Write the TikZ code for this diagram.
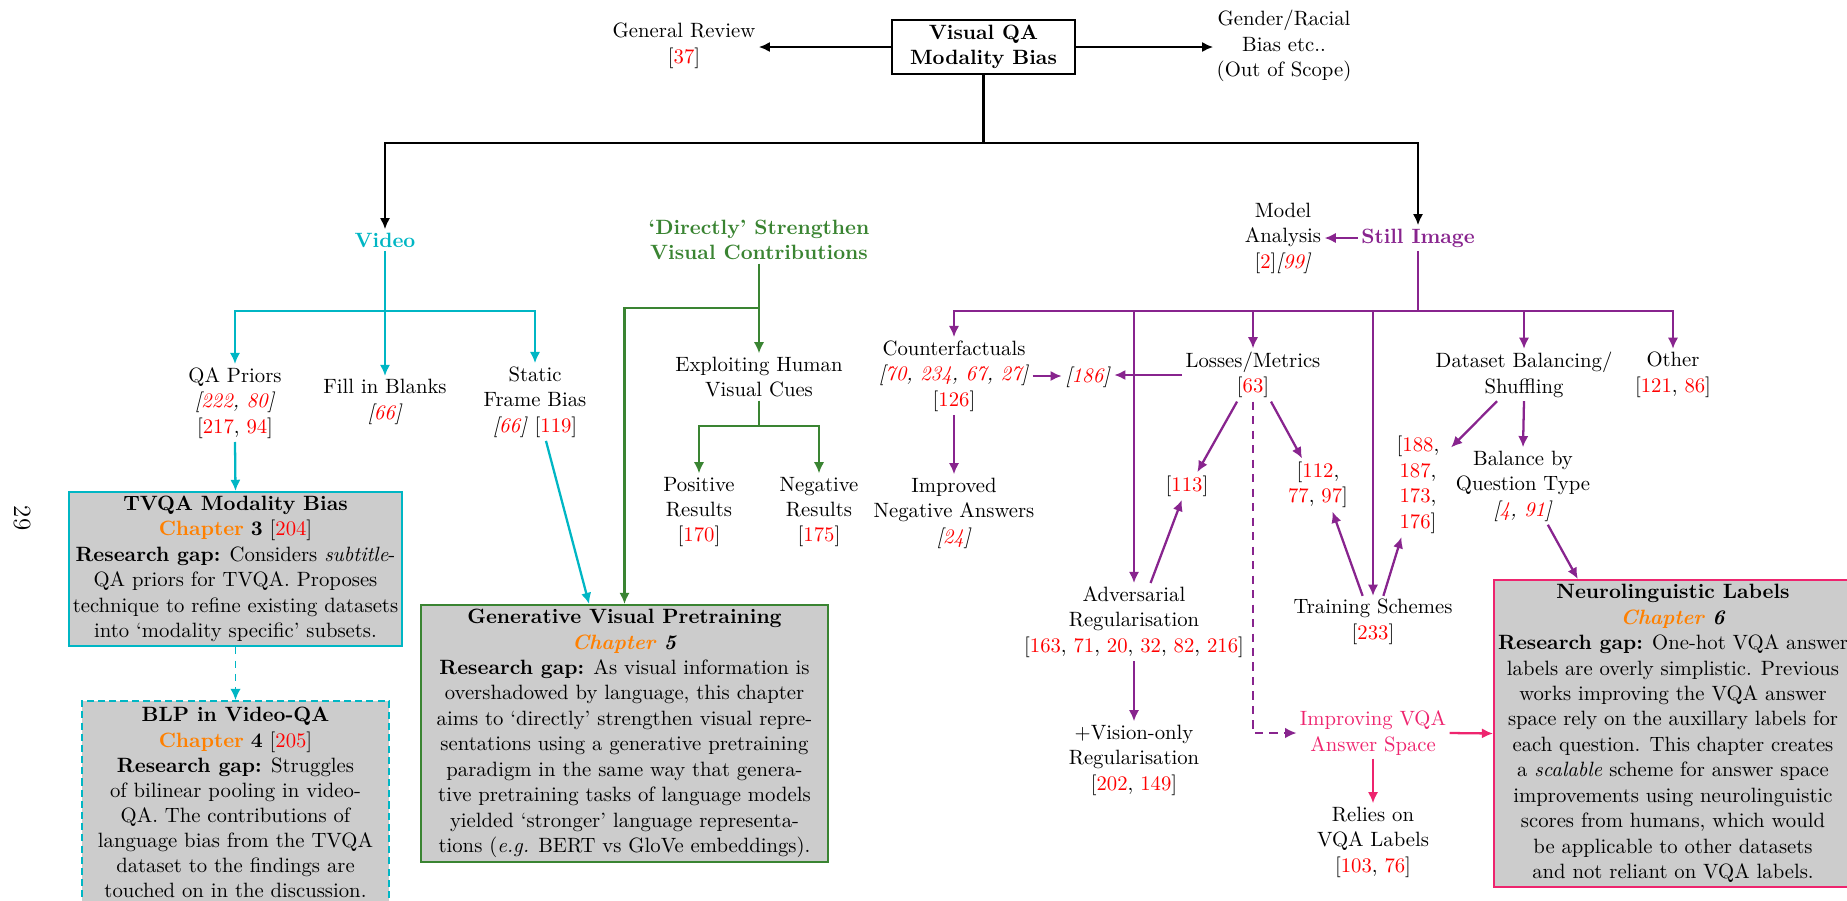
\documentclass[tikz,border=0pt]{standalone}
\usetikzlibrary{arrows.meta}
\definecolor{vidcyan}{RGB}{0,182,196}
\definecolor{dirgreen}{RGB}{58,132,50}
\definecolor{stillpurple}{RGB}{136,36,142}
\definecolor{answerpink}{RGB}{238,36,110}
\definecolor{chaporange}{RGB}{255,128,0}
\definecolor{citered}{RGB}{255,0,0}
\definecolor{boxgray}{RGB}{204,204,204}
\newcommand{\rc}[1]{\textcolor{citered}{#1}}
\newcommand{\chap}[1]{\textcolor{chaporange}{\textbf{Chapter}} \textbf{#1}}
\newcommand{\chapit}[1]{\textbf{\textit{\textcolor{chaporange}{Chapter} #1}}}
\newcommand{\rgap}{\textbf{Research gap:}}
\begin{document}
\begin{tikzpicture}[x=0.483pt,y=-0.483pt,
  every node/.style={font=\fontsize{10}{12.3}\selectfont,align=center,inner sep=1.5pt},
  line/.style={line width=1.1pt},
  arr/.style={line,-{Latex[length=5.4pt,width=5pt]}},
  blk/.style={arr,black},
  cy/.style={arr,vidcyan},
  gr/.style={arr,dirgreen},
  pu/.style={arr,stillpurple},
  pk/.style={arr,answerpink},
  chapbox/.style={draw,fill=boxgray,line width=1pt,inner sep=0pt},
  boxdash/.style={dash pattern=on 3.4pt off 2pt},
]
\useasboundingbox (0,0) rectangle (1847,900);

% ---------- root and first level ----------
\node[draw,line width=1.1pt,minimum width=88.4pt,minimum height=26.1pt,inner sep=0pt] (root) at (983.5,47)
  {\textbf{Visual QA}\\\textbf{Modality Bias}};
\node (genrev) at (684,46) {General Review\\{}[\rc{37}]};
\node (gender) at (1284,46) {Gender/Racial\\Bias etc..\\(Out of Scope)};
\node[text=vidcyan] (video) at (385,240) {\textbf{Video}};
\node[text=dirgreen] (direct) at (759,240) {\textbf{`Directly' Strengthen}\\\textbf{Visual Contributions}};
\node (model) at (1283,238) {Model\\Analysis\\{}[\rc{2}]\textit{[\rc{99}]}};
\node[text=stillpurple] (still) at (1418,238) {\textbf{Still Image}};

% ---------- video branch ----------
\node (qa) at (235,403) {QA Priors\\\textit{[\rc{222}, \rc{80}]}\\{}[\rc{217}, \rc{94}]};
\node (fill) at (385,402) {Fill in Blanks\\\textit{[\rc{66}]}};
\node (static) at (535,402) {Static\\Frame Bias\\\textit{[\rc{66}]} [\rc{119}]};

% ---------- direct strengthening branch ----------
\node (exploit) at (759,377) {Exploiting Human\\Visual Cues};
\node (pos) at (699,512) {Positive\\Results\\{}[\rc{170}]};
\node (neg) at (819,512) {Negative\\Results\\{}[\rc{175}]};

% ---------- still image branch ----------
\node (cf) at (954,376) {Counterfactuals\\\textit{[\rc{70}, \rc{234}, \rc{67}, \rc{27}]}\\{}[\rc{126}]};
\node (c186) at (1088,377) {\textit{[\rc{186}]}};
\node (impneg) at (954,513) {Improved\\Negative Answers\\\textit{[\rc{24}]}};
\node (loss) at (1253,375) {Losses/Metrics\\{}[\rc{63}]};
\node (c113) at (1187,486) {[\rc{113}]};
\node (c112) at (1318,485) {[\rc{112},\\\rc{77}, \rc{97}]};
\node (adv) at (1134,622) {Adversarial\\Regularisation\\{}[\rc{163}, \rc{71}, \rc{20}, \rc{32}, \rc{82}, \rc{216}]};
\node (vision) at (1134,760) {+Vision-only\\Regularisation\\{}[\rc{202}, \rc{149}]};
\node (train) at (1373,622) {Training Schemes\\{}[\rc{233}]};
\node[text=answerpink] (improv) at (1373,733) {Improving VQA\\Answer Space};
\node (relies) at (1373,842) {Relies on\\VQA Labels\\{}[\rc{103}, \rc{76}]};
\node (c188) at (1418,485) {[\rc{188},\\\rc{187},\\\rc{173},\\\rc{176}]};
\node (dsb) at (1524,375) {Dataset Balancing/\\Shuffling};
\node (bal) at (1523,486) {Balance by\\Question Type\\\textit{[\rc{4}, \rc{91}]}};
\node (other) at (1673,375) {Other\\{}[\rc{121}, \rc{86}]};

% ---------- chapter boxes ----------
\node[chapbox,draw=vidcyan,minimum width=160.8pt,minimum height=74.4pt] (tvqa) at (235.5,569)
  {\textbf{TVQA Modality Bias}\\\chap{3} [\rc{204}]\\\rgap{} Considers \textit{subtitle}-\\QA priors for TVQA. Proposes\\technique to refine existing datasets\\into `modality specific' subsets.};
\node[chapbox,draw=vidcyan,boxdash,minimum width=148.3pt,minimum height=98pt,
      font=\fontsize{10}{12.1}\selectfont] (blp) at (235.5,802.5)
  {\textbf{BLP in Video-QA}\\\chap{4} [\rc{205}]\\\rgap{} Struggles\\of bilinear pooling in video-\\QA. The contributions of\\language bias from the TVQA\\dataset to the findings are\\touched on in the discussion.};
\node[chapbox,draw=dirgreen,minimum width=196.6pt,minimum height=124.1pt] (gen) at (624.5,733.5)
  {\textbf{Generative Visual Pretraining}\\\chapit{5}\\\rgap{} As visual information is\\overshadowed by language, this chapter\\aims to `directly' strengthen visual repre-\\sentations using a generative pretraining\\paradigm in the same way that genera-\\tive pretraining tasks of language models\\yielded `stronger' language representa-\\tions (\textit{e.g.} BERT vs GloVe embeddings).};
\node[chapbox,draw=answerpink,minimum width=172.9pt,minimum height=148.3pt] (neuro) at (1673,733.5)
  {\textbf{Neurolinguistic Labels}\\\chapit{6}\\\rgap{} One-hot VQA answer\\labels are overly simplistic. Previous\\works improving the VQA answer\\space rely on the auxillary labels for\\each question. This chapter creates\\a \textit{scalable} scheme for answer space\\improvements using neurolinguistic\\scores from humans, which would\\be applicable to other datasets\\and not reliant on VQA labels.};

% page number
\node[rotate=-90,font=\fontsize{12}{14}\selectfont] (pagenum) at (22,518) {29};

% ---------- junctions ----------
\coordinate (jtop) at (983.5,143);
\coordinate (jvid) at (385,311);
\coordinate (jgr) at (759,308);
\coordinate (jex) at (759,426);
\coordinate (jst) at (1418,311);

% ---------- black connectors ----------
\draw[blk] (root.west) -- (genrev.east |- root.west);
\draw[blk] (root.east) -- (gender.west |- root.east);
\draw[line] (root.south) -- (jtop);
\draw[blk] (jtop) -| (video.north);
\draw[blk] (jtop) -| (still.north);

% ---------- video connectors ----------
\draw[line,vidcyan] (video.south) -- (jvid);
\draw[cy] (jvid) -| (qa.north);
\draw[cy] (jvid) -- (fill.north);
\draw[cy] (jvid) -| (static.north);
\draw[cy] (qa.south) -- (tvqa.north);
\draw[cy,line width=0.7pt,dash pattern=on 3.5pt off 3pt] (tvqa.south) -- (blp.north);
\draw[cy] ([xshift=5.3pt]static.south) -- ([xshift=-17.1pt]gen.north);

% ---------- green connectors ----------
\draw[line,dirgreen] (direct.south) -- (jgr);
\draw[gr] (jgr) -- (exploit.north);
\draw[gr] (jgr) -| (gen.north);
\draw[line,dirgreen] (exploit.south) -- (jex);
\draw[gr] (jex) -| (pos.north);
\draw[gr] (jex) -| (neg.north);

% ---------- purple connectors ----------
\draw[pu] (still.west) -- (model.east |- still.west);
\draw[line,stillpurple] (still.south) -- (jst);
\draw[pu] (jst) -| (cf.north);
\draw[pu] (jst) -| (adv.north);
\draw[pu] (jst) -| (loss.north);
\draw[pu] (jst) -| (train.north);
\draw[pu] (jst) -| (dsb.north);
\draw[pu] (jst) -| (other.north);
\draw[pu] (cf.east) -- (c186.west |- cf.east);
\draw[pu] (loss.west) -- (c186.east |- loss.west);
\draw[pu] (cf.south) -- (impneg.north);
\draw[pu] ([xshift=-7.7pt]loss.south) -- ([xshift=5pt]c113.north);
\draw[pu] ([xshift=8.7pt]loss.south) -- ([xshift=-7.7pt]c112.north);
\draw[pu,line width=0.7pt,dash pattern=on 4pt off 3pt] (loss.south) |- (improv.west);
\draw[pu] ([xshift=8pt]adv.north) -- ([xshift=-2.5pt]c113.south);
\draw[pu] (adv.south) -- (vision.north);
\draw[pu] ([xshift=-5pt]train.north) -- ([xshift=7pt]c112.south);
\draw[pu] ([xshift=5pt]train.north) -- ([xshift=-8pt]c188.south);
\draw[pu] ([xshift=-13pt]dsb.south) -- ([xshift=4pt,yshift=-7pt]c188.north east);
\draw[pu] (dsb.south) -- (bal.north);
\draw[pu] ([xshift=12pt]bal.south) -- ([xshift=-46pt]neuro.north);

% ---------- pink connectors ----------
\draw[pk] (improv.east) -- (neuro.west);
\draw[pk] (improv.south) -- (relies.north);
\end{tikzpicture}
\end{document}
